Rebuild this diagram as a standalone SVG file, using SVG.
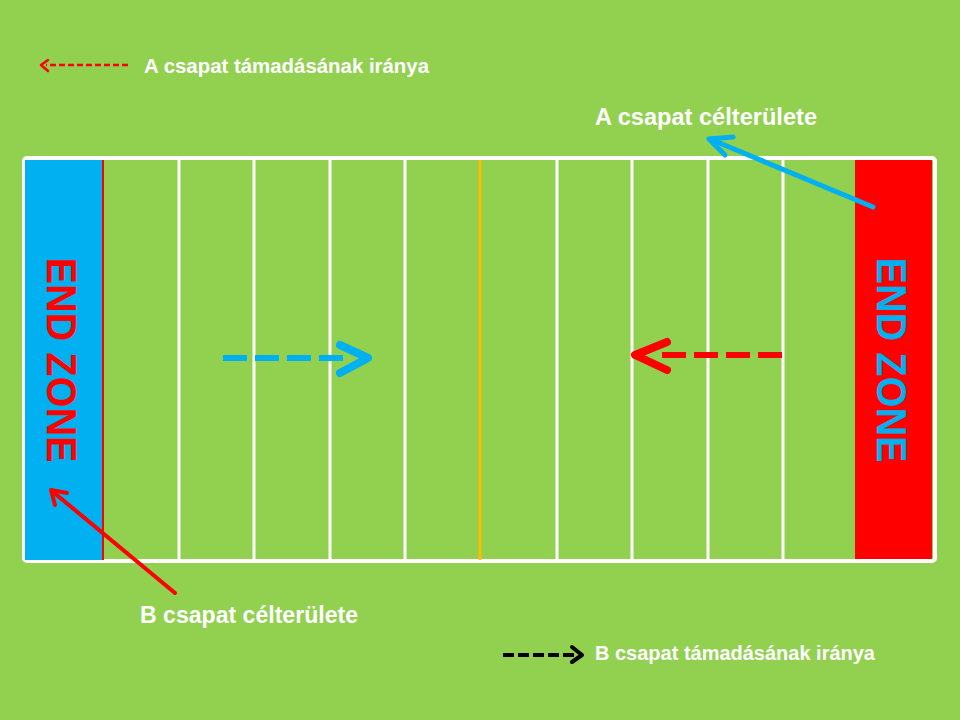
<svg xmlns="http://www.w3.org/2000/svg" width="960" height="720" viewBox="0 0 960 720">
<style>
.lbl{font-family:"Liberation Sans",Arial,sans-serif;font-weight:bold;fill:#FFFFFF}
.ez{font-family:"Liberation Sans",Arial,sans-serif;font-weight:bold;font-size:43px;text-anchor:middle}
.yd{stroke:#FFFFFF;stroke-width:3}
</style>
<rect x="0" y="0" width="960" height="720" fill="#92D050"/>
<g id="field">
<rect x="24" y="158" width="911" height="403" rx="3" fill="none" stroke="#FFFFFF" stroke-width="4"/>
<line class="yd" x1="179" y1="160" x2="179" y2="559"/>
<line class="yd" x1="254" y1="160" x2="254" y2="559"/>
<line class="yd" x1="330" y1="160" x2="330" y2="559"/>
<line class="yd" x1="405" y1="160" x2="405" y2="559"/>
<line class="yd" x1="557" y1="160" x2="557" y2="559"/>
<line class="yd" x1="632" y1="160" x2="632" y2="559"/>
<line class="yd" x1="708" y1="160" x2="708" y2="559"/>
<line class="yd" x1="783" y1="160" x2="783" y2="559"/>
<line x1="480" y1="160" x2="480" y2="560" stroke="#FFC000" stroke-width="3"/>
</g>
<g id="endzone-left">
<rect x="25" y="160" width="78" height="400" fill="#00B0F0"/>
<line x1="103" y1="160" x2="103" y2="560" stroke="#FF0000" stroke-width="2"/>
<text class="ez" fill="#FF0000" transform="translate(47,360) rotate(90)" textLength="205" lengthAdjust="spacingAndGlyphs">END ZONE</text>
</g>
<g id="endzone-right">
<rect x="855" y="160" width="77" height="399" fill="#FF0000"/>
<text class="ez" fill="#00B0F0" transform="translate(877,360) rotate(90)" textLength="205" lengthAdjust="spacingAndGlyphs">END ZONE</text>
</g>
<g id="connectors" fill="none" stroke-linecap="round" stroke-linejoin="round">
<line x1="223" y1="358" x2="343" y2="358" stroke="#00B0F0" stroke-width="6" stroke-dasharray="24 8" stroke-linecap="butt"/>
<polyline points="340,345 368,358 340,373" stroke="#00B0F0" stroke-width="8"/>
<line x1="782" y1="355" x2="662" y2="355" stroke="#FF0000" stroke-width="6" stroke-dasharray="24 8" stroke-linecap="butt"/>
<polyline points="667,342 635,355 667,370" stroke="#FF0000" stroke-width="8"/>
<line x1="873" y1="207" x2="710" y2="139" stroke="#00B0F0" stroke-width="5"/>
<polyline points="733,137 709,139 725,155" stroke="#00B0F0" stroke-width="5"/>
<line x1="175" y1="593" x2="52" y2="491" stroke="#FF0000" stroke-width="4"/>
<polyline points="67,493 51,490 55,505" stroke="#FF0000" stroke-width="4"/>
<line x1="128" y1="65" x2="46" y2="65" stroke="#FF0000" stroke-width="2.5" stroke-dasharray="6 3" stroke-linecap="butt"/>
<polyline points="48,60 41,65 48,71" stroke="#FF0000" stroke-width="2.5"/>
<line x1="503" y1="655" x2="578" y2="655" stroke="#000000" stroke-width="4" stroke-dasharray="11 4" stroke-linecap="butt"/>
<polyline points="572,647 582,655 572,662" stroke="#000000" stroke-width="4"/>
</g>
<g id="labels">
<text class="lbl" x="144" y="73" font-size="20" textLength="285" lengthAdjust="spacingAndGlyphs">A csapat támadásának iránya</text>
<text class="lbl" x="595" y="125" font-size="23" textLength="222" lengthAdjust="spacingAndGlyphs">A csapat célterülete</text>
<text class="lbl" x="140" y="623" font-size="23" textLength="218" lengthAdjust="spacingAndGlyphs">B csapat célterülete</text>
<text class="lbl" x="595" y="660" font-size="20" textLength="280" lengthAdjust="spacingAndGlyphs">B csapat támadásának iránya</text>
</g>
</svg>
